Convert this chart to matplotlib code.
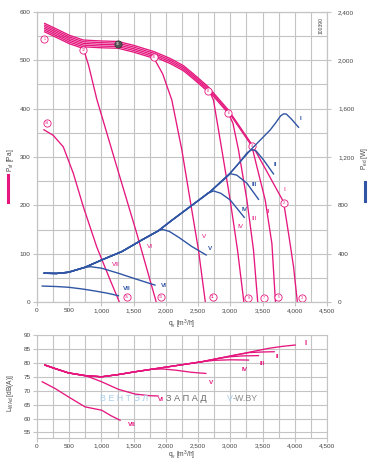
import numpy as np
import matplotlib
matplotlib.use('Agg')
import matplotlib.pyplot as plt
from matplotlib.ticker import FuncFormatter
from matplotlib.lines import Line2D

plt.rcParams['font.family'] = ['Liberation Sans', 'DejaVu Sans']

PINK = '#e5177e'
BLUE = '#2f55a4'
GRID = '#c4c4c4'
TXT = '#444444'

# ---------------- pressure curves (Pa) ----------------
q_P_I = [110, 300, 500, 719, 1000, 1258, 1500, 1817, 2065, 2272, 2427, 2651, 2971, 3334, 3567, 3826, 3903, 3981, 4040]
P_I = [577, 565, 552, 542, 540, 539, 531, 518, 504, 489, 472, 446, 397, 326, 270, 207, 142, 73, 0]

q_P_II = [110, 300, 500, 719, 1000, 1258, 1500, 1817, 2065, 2272, 2427, 2651, 2971, 3334, 3412, 3541, 3645, 3700]
P_II = [573.5, 561.5, 548.5, 538.5, 536.5, 535.5, 527.5, 514.5, 500.5, 485.5, 468.5, 442.5, 393.5, 322.5, 280, 211, 121, 0]

q_P_III = [110, 300, 500, 719, 1000, 1258, 1500, 1817, 2065, 2272, 2427, 2651, 2971, 3040, 3126, 3257, 3359, 3425]
P_III = [570, 558, 545, 535, 533, 532, 524, 511, 497, 482, 465, 439, 390, 370, 315, 211, 108, 0]

q_P_IV = [110, 300, 500, 719, 1000, 1258, 1500, 1817, 2065, 2272, 2427, 2651, 2700, 2738, 2868, 2997, 3111, 3210]
P_IV = [566.5, 554.5, 541.5, 531.5, 529.5, 528.5, 520.5, 507.5, 493.5, 478.5, 461.5, 435.5, 429, 418, 315, 211, 108, 0]

q_P_V = [110, 300, 500, 719, 1000, 1258, 1500, 1817, 1950, 2092, 2247, 2376, 2505, 2612]
P_V = [563, 551, 538, 528, 526, 525, 517, 504, 472, 418, 315, 211, 108, 0]

q_P_VI = [110, 300, 500, 719, 800, 927, 1238, 1548, 1850]
P_VI = [559.5, 547.5, 534.5, 524.5, 490, 420, 280, 142, 0]

q_P_VII = [98, 250, 408, 564, 719, 927, 1134, 1278]
P_VII = [357, 345, 321, 266, 197, 114, 46, 0]

# ---------------- power curves (W) ----------------
q_W_I = [113, 300, 487, 745, 1004, 1315, 1626, 1880, 2065, 2376, 2687, 2997, 3308, 3619, 3700, 3780, 3826, 3870, 3955, 4058]
W_I = [238, 236, 246, 287, 348, 417, 513, 588, 665, 789, 913, 1066, 1255, 1424, 1480, 1540, 1557, 1555, 1510, 1446]

q_W_II = [113, 300, 487, 745, 1004, 1315, 1626, 1880, 2065, 2376, 2687, 2997, 3150, 3260, 3334, 3400, 3515, 3670]
W_II = [238, 236, 246, 287, 348, 417, 513, 588, 665, 789, 913, 1066, 1160, 1235, 1262, 1250, 1176, 1060]

q_W_III = [113, 300, 487, 745, 1004, 1315, 1626, 1880, 2065, 2376, 2687, 2900, 3000, 3100, 3257, 3437]
W_III = [238, 236, 246, 287, 348, 417, 513, 588, 665, 789, 913, 1012, 1062, 1050, 983, 850]

q_W_IV = [113, 300, 487, 745, 1004, 1315, 1626, 1880, 2065, 2376, 2550, 2650, 2740, 2850, 2997, 3215]
W_IV = [238, 236, 246, 287, 348, 417, 513, 588, 665, 789, 858, 900, 919, 900, 845, 701]

q_W_V = [113, 300, 487, 745, 1004, 1315, 1626, 1780, 1880, 1950, 2050, 2200, 2400, 2625]
W_V = [238, 236, 246, 287, 348, 417, 513, 560, 590, 600, 585, 535, 460, 389]

q_W_VI = [113, 300, 487, 650, 745, 830, 1000, 1263, 1500, 1830]
W_VI = [238, 236, 246, 272, 287, 292, 280, 238, 196, 140]

q_W_VII = [82, 300, 487, 700, 901, 1100, 1263]
W_VII = [132, 128, 122, 108, 91, 72, 52]

# ---------------- sound power curves (dB(A)) ----------------
q_L_I = [124, 300, 487, 745, 1004, 1263, 1522, 1780, 2040, 2300, 2557, 2816, 3075, 3334, 3592, 3800, 4006]
L_I = [79.2, 77.8, 76.4, 75.4, 75.0, 75.8, 76.8, 77.7, 78.6, 79.5, 80.4, 81.6, 82.8, 84.0, 85.2, 85.9, 86.4]

q_L_II = [124, 300, 487, 745, 1004, 1263, 1522, 1780, 2040, 2300, 2557, 2816, 3075, 3300, 3500, 3680]
L_II = [79.2, 77.8, 76.4, 75.4, 75.0, 75.8, 76.8, 77.7, 78.6, 79.5, 80.4, 81.6, 82.8, 83.7, 83.9, 84.0]

q_L_III = [124, 300, 487, 745, 1004, 1263, 1522, 1780, 2040, 2300, 2557, 2816, 3000, 3200, 3437]
L_III = [79.2, 77.8, 76.4, 75.4, 75.0, 75.8, 76.8, 77.7, 78.6, 79.5, 80.4, 81.6, 82.2, 82.5, 82.6]

q_L_IV = [124, 300, 487, 745, 1004, 1263, 1522, 1780, 2040, 2300, 2557, 2750, 3000, 3282]
L_IV = [79.2, 77.8, 76.4, 75.4, 75.0, 75.8, 76.8, 77.7, 78.6, 79.5, 80.4, 80.9, 81.1, 81.0]

q_L_V = [124, 300, 487, 745, 1004, 1263, 1522, 1780, 1950, 2143, 2402, 2620]
L_V = [79.2, 77.8, 76.4, 75.4, 75.0, 75.8, 76.8, 77.7, 77.8, 77.4, 76.6, 76.2]

q_L_VI = [124, 300, 487, 745, 1004, 1263, 1522, 1750, 1880]
L_VI = [79.2, 77.8, 76.4, 75.5, 73.2, 70.5, 68.8, 68.2, 68.1]

q_L_VII = [82, 280, 487, 745, 1004, 1150, 1289]
L_VII = [73.2, 70.8, 67.8, 64.2, 63.0, 61.0, 59.4]

# numbered operating points (q, Pa, label)
pt_q = [113, 3826, 4106, 3334, 3747, 2971, 3525, 2651, 3281, 1817, 2729, 719, 1926, 151, 1393]
pt_P = [545, 205, 9, 323, 11, 391, 9, 437, 9, 506, 11, 522, 11, 370, 11]
pt_lab = ['1', '2', '3', '4', '5', '6', '7', '8', '9', '10', '11', '12', '13', '14', '15']

roman = ['I', 'II', 'III', 'IV', 'V', 'VI', 'VII']
lab_P_q = [3826, 3567, 3334, 3111, 2557, 1703, 1160]
lab_P_v = [233, 187, 173, 157, 135, 114, 78]
lab_W_q = [4069, 3670, 3334, 3179, 2660, 1926, 1340]
lab_W_v = [1521, 1134, 969, 768, 445, 135, 113]
lab_L_q = [4151, 3696, 3448, 3179, 2671, 1880, 1409]
lab_L_v = [87.0, 82.2, 79.8, 77.7, 72.8, 66.9, 57.9]

W, H = 376, 461
fig = plt.figure(figsize=(W / 100, H / 100), dpi=100)

def fx(px):
    return px / W

def fy(py):
    return 1 - py / H

comma = FuncFormatter(lambda v, p: f'{int(round(v)):,}')

def style(ax):
    for s in ax.spines.values():
        s.set_color(GRID)
        s.set_linewidth(0.8)
    ax.grid(which='both', color=GRID, lw=0.8)
    ax.set_axisbelow(True)
    ax.tick_params(which='major', length=3, width=0.8, color=GRID, labelsize=4.6,
                   labelcolor=TXT, pad=1.5)
    ax.tick_params(which='minor', length=0)
    ax.set_xlim(0, 4500)
    ax.set_xticks(np.arange(0, 4501, 500))
    ax.set_xticks(np.arange(0, 4501, 250), minor=True)
    ax.xaxis.set_major_formatter(comma)

# ---------- top chart ----------
ax = fig.add_axes([fx(37), fy(302), fx(327) - fx(37), fy(12) - fy(302)])
style(ax)
ax.set_ylim(0, 600)
ax.set_yticks(np.arange(0, 601, 100))
ax.set_yticks(np.arange(0, 601, 50), minor=True)

ax2 = ax.twinx()
ax2.set_ylim(0, 2400)
ax2.set_yticks(np.arange(0, 2401, 400))
ax2.yaxis.set_major_formatter(comma)
for s in ax2.spines.values():
    s.set_color(GRID)
    s.set_linewidth(0.8)
ax2.tick_params(length=3, width=0.8, color=GRID, labelsize=4.6, labelcolor=TXT, pad=5)

press = [(q_P_I, P_I), (q_P_II, P_II), (q_P_III, P_III), (q_P_IV, P_IV),
         (q_P_V, P_V), (q_P_VI, P_VI), (q_P_VII, P_VII)]
for q, p in press:
    ax.plot(q, p, color=PINK, lw=0.95, solid_capstyle='butt', zorder=3)

power = [(q_W_I, W_I), (q_W_II, W_II), (q_W_III, W_III), (q_W_IV, W_IV),
         (q_W_V, W_V), (q_W_VI, W_VI), (q_W_VII, W_VII)]
for q, w in power:
    ax2.plot(q, w, color=BLUE, lw=1.0, zorder=3)

for q, p, t in zip(pt_q, pt_P, pt_lab):
    ax.plot([q], [p], 'o', ms=5.2, mfc='white', mec=PINK, mew=0.6, zorder=6)
    ax.text(q, p, t, color=PINK, fontsize=2.6, ha='center', va='center', zorder=7)
ax.plot([1258], [534], 'o', ms=5.2, mfc='#555555', mec='#333333', mew=0.5, zorder=6)
ax.text(1258, 534, '16', color='white', fontsize=2.6, ha='center', va='center', zorder=7)

for r, q, v in zip(roman, lab_P_q, lab_P_v):
    ax.text(q, v, r, color=PINK, fontsize=4.6, ha='left', va='center', zorder=7)
for r, q, v in zip(roman, lab_W_q, lab_W_v):
    ax2.text(q, v, r, color=BLUE, fontsize=4.6, fontweight='bold', ha='left', va='center', zorder=7)

fig.text(fx(321), fy(25), '100390', rotation=90, fontsize=3.6, color=TXT, ha='center', va='center')
fig.text(fx(182), fy(324), r'q$_\mathregular{v}$ [m$^\mathregular{3}$/h]', fontsize=4.8, color=TXT,
         ha='center', va='center')
fig.text(fx(10), fy(160), r'P$_\mathregular{sf}$ [Pa]', rotation=90, fontsize=4.8, color=TXT,
         ha='center', va='center')
fig.add_artist(Line2D([fx(7.5), fx(7.5)], [fy(175), fy(202)], color=PINK, lw=2.2))
fig.text(fx(365), fy(158), r'P$_\mathregular{ed}$ [W]', rotation=90, fontsize=4.8, color=TXT,
         ha='center', va='center')
fig.add_artist(Line2D([fx(365), fx(365)], [fy(182), fy(201)], color=BLUE, lw=2.2))

# ---------- bottom chart ----------
bx = fig.add_axes([fx(37), fy(437.5), fx(327) - fx(37), fy(335) - fy(437.5)])
style(bx)
bx.set_ylim(53.2, 90)
bx.set_yticks(np.arange(55, 91, 5))

sound = [(q_L_I, L_I), (q_L_II, L_II), (q_L_III, L_III), (q_L_IV, L_IV),
         (q_L_V, L_V), (q_L_VI, L_VI), (q_L_VII, L_VII)]
for q, l in sound:
    bx.plot(q, l, color=PINK, lw=0.95, zorder=3)
for r, q, v in zip(roman, lab_L_q, lab_L_v):
    bx.text(q, v, r, color=PINK, fontsize=4.6 if r != 'I' else 5.5, fontweight='bold',
            ha='left', va='center', zorder=7)

fig.text(fx(182), fy(455), r'q$_\mathregular{v}$ [m$^\mathregular{3}$/h]', fontsize=4.8, color=TXT,
         ha='center', va='center')
fig.text(fx(10), fy(393), r'L$_\mathregular{WAd}$ [dB(A)]', rotation=90, fontsize=4.8, color=TXT,
         ha='center', va='center')

# watermark
fig.text(fx(100), fy(398), 'В Е Н Т Э Л', fontsize=6.4, color='#a8cdea', ha='left', va='center', zorder=1)
fig.text(fx(166), fy(398), 'З А П А Д', fontsize=6.6, color='#6a6a6a', ha='left', va='center', zorder=1)
fig.text(fx(227), fy(398), 'V', fontsize=6.4, color='#a8cdea', ha='left', va='center', zorder=1)
fig.text(fx(232.5), fy(398), '-W.BY', fontsize=6.4, color='#8a8a8a', ha='left', va='center', zorder=1)

fig.savefig('out.png', dpi=100)
